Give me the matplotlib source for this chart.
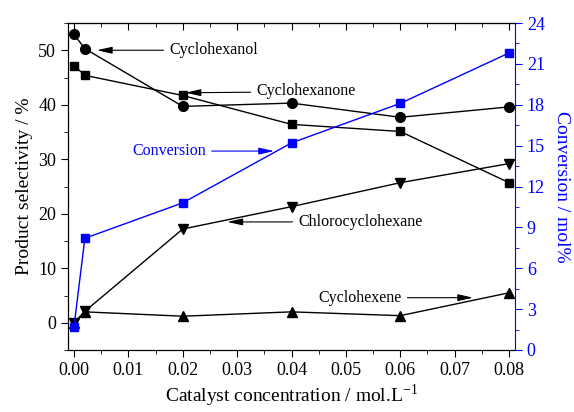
import matplotlib
matplotlib.use("Agg")
import matplotlib.pyplot as plt
from matplotlib.ticker import MultipleLocator

plt.rcParams["font.family"] = ["Liberation Serif", "DejaVu Serif"]
plt.rcParams["mathtext.fontset"] = "stix"

conc = [0.0, 0.002, 0.02, 0.04, 0.06, 0.08]
cyclohexanol = [52.9, 50.3, 39.7, 40.3, 37.7, 39.6]
cyclohexanone = [47.2, 45.4, 41.7, 36.4, 35.1, 25.7]
chlorocyclohexane = [0.0, 2.1, 17.2, 21.3, 25.7, 29.2]
cyclohexene = [0.0, 2.0, 1.2, 2.0, 1.3, 5.5]
conversion = [1.7, 8.2, 10.8, 15.2, 18.1, 21.8]
xticks = [0, 0.01, 0.02, 0.03, 0.04, 0.05, 0.06, 0.07, 0.08]

BLUE = "#0000ff"

fig = plt.figure(figsize=(5.74, 4.12), dpi=100)
ax = fig.add_axes([68 / 574, 1 - 350 / 412, (515 - 68) / 574, (350 - 23) / 412])
ax2 = ax.twinx()

kw = dict(color="black", lw=1.0)
ax.plot(conc, cyclohexanol, marker="o", ms=7, **kw)
ax.plot(conc, cyclohexanone, marker="s", ms=6, **kw)
ax.plot(conc, chlorocyclohexane, marker="v", ms=7, **kw)
ax.plot(conc, cyclohexene, marker="^", ms=7, **kw)
ax2.plot(conc, conversion, marker="s", ms=5.5, color=BLUE, lw=1.0)

ax.set_xlim(-0.0011, 0.0811)
ax.set_ylim(-5, 55)
ax2.set_ylim(0, 24)

ax.set_xticks(xticks)
ax.set_xticklabels([f"{v:.2f}" for v in xticks])
ax.xaxis.set_minor_locator(MultipleLocator(0.005))
ax.yaxis.set_major_locator(MultipleLocator(10))
ax.yaxis.set_minor_locator(MultipleLocator(5))
ax2.yaxis.set_major_locator(MultipleLocator(3))
ax2.yaxis.set_minor_locator(MultipleLocator(1.5))

ax.tick_params(axis="both", which="both", direction="out", top=False, labelsize=13)
ax.tick_params(which="major", length=5)
ax.tick_params(which="minor", length=3)
ax2.tick_params(axis="y", which="both", direction="out", colors=BLUE, labelsize=13)
ax2.tick_params(which="major", length=5)
ax2.tick_params(which="minor", length=3)
ax2.spines["right"].set_color(BLUE)
ax.spines["right"].set_visible(False)

# top ticks point inward
secx = ax.secondary_xaxis("top")
secx.set_xticks(xticks)
secx.xaxis.set_minor_locator(MultipleLocator(0.005))
secx.tick_params(which="both", direction="in", labeltop=False)
secx.tick_params(which="major", length=5)
secx.tick_params(which="minor", length=3)

ax.set_xlabel("Catalyst concentration / mol.L$^{\\mathregular{-1}}$", fontsize=14, labelpad=3)
ax.set_ylabel("Product selectivity / %", fontsize=14, labelpad=4)
ax2.set_ylabel("Conversion / mol%", fontsize=14, color=BLUE, rotation=270, labelpad=18)

arrow = dict(arrowstyle="-|>,head_length=0.8,head_width=0.18", color="black", lw=0.8,
             shrinkA=2, shrinkB=0)
fs = 11.5
ax.annotate("Cyclohexanol", xy=(0.0042, 50.0), xytext=(0.0175, 50.0),
            fontsize=fs, va="center", ha="left", arrowprops=arrow)
ax.annotate("Cyclohexanone", xy=(0.0205, 42.2), xytext=(0.0335, 42.6),
            fontsize=fs, va="center", ha="left",
            arrowprops=dict(arrow, relpos=(0, 0.4)))
ax.annotate("Chlorocyclohexane", xy=(0.0282, 18.5), xytext=(0.0412, 18.5),
            fontsize=fs, va="center", ha="left", arrowprops=arrow)
ax.annotate("Cyclohexene", xy=(0.0734, 4.6), xytext=(0.0603, 4.6),
            fontsize=fs, va="center", ha="right",
            arrowprops=dict(arrow, relpos=(1, 0.5)))
ax.annotate("Conversion", xy=(0.0368, 31.5), xytext=(0.0243, 31.5),
            fontsize=fs, va="center", ha="right", color=BLUE,
            arrowprops=dict(arrow, color=BLUE, relpos=(1, 0.5)))

fig.savefig("out.png", dpi=100)
